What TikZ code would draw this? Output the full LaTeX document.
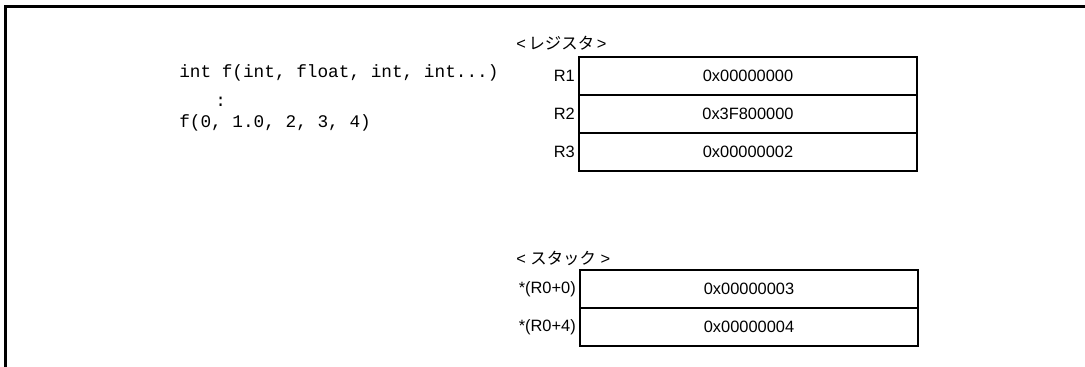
\documentclass[tikz,border=0pt]{standalone}
\usepackage{fontspec}
\setmainfont{Liberation Sans}
\setmonofont{Liberation Mono}
\newfontfamily\jpfont{Noto Sans CJK JP}
\begin{document}
\begin{tikzpicture}[x=0.75pt,y=-0.75pt,
  cell/.style={draw,line width=0.9pt,minimum width=338*0.75pt,minimum height=38*0.75pt,inner sep=0pt,font=\fontsize{12.3pt}{14pt}\selectfont},
  lbl/.style={inner sep=0pt,anchor=east,font=\fontsize{12.3pt}{14pt}\selectfont},
  code/.style={inner sep=0pt,anchor=west,font=\ttfamily\fontsize{13.3pt}{15pt}\selectfont},
  title/.style={inner sep=0pt,anchor=west,font=\fontsize{12.3pt}{14pt}\selectfont}]
\useasboundingbox (0,0) rectangle (1085,367);
% frame
\draw[line width=1.8pt] (5.5,367) -- (5.5,6.5) -- (1085,6.5);
% code
\node[code] (c1) at (179,73) {int f(int, float, int, int...)};
\node[code] (c2) at (215,102) {:};
\node[code] (c3) at (179,123) {f(0, 1.0, 2, 3, 4)};
% registers
\node[title] (rt) at (516,43) {<\,{\jpfont レジスタ}\,>};
\node[cell] (r1) at (748,76) {0x00000000};
\node[cell] (r2) at (748,114) {0x3F800000};
\node[cell] (r3) at (748,152) {0x00000002};
\node[lbl] (l1) at (575,76) {R1};
\node[lbl] (l2) at (575,114) {R2};
\node[lbl] (l3) at (575,152) {R3};
% stack
\node[title] (st) at (516,258) {< {\jpfont スタック} >};
\node[cell] (s0) at (749,289) {0x00000003};
\node[cell] (s4) at (749,327) {0x00000004};
\node[lbl] (m0) at (576,289) {*(R0+0)};
\node[lbl] (m4) at (576,327) {*(R0+4)};
\end{tikzpicture}
\end{document}
